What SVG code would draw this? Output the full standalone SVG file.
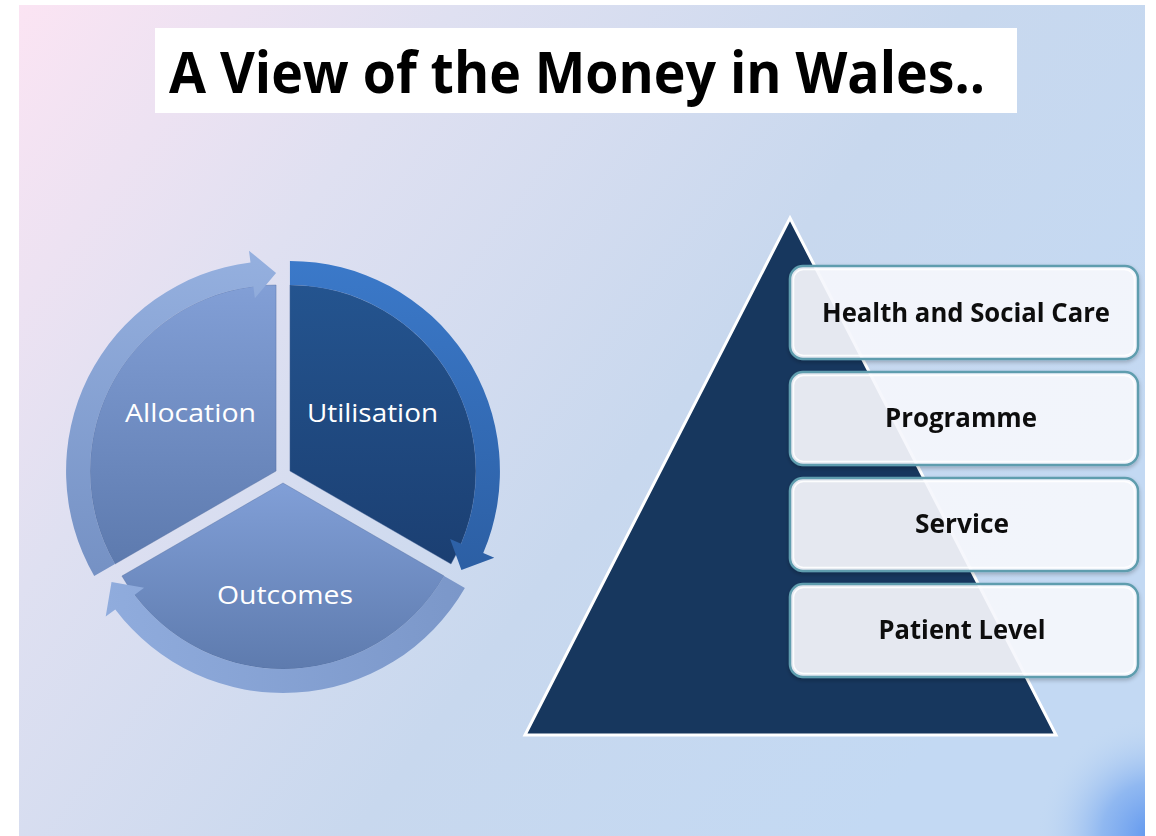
<svg xmlns="http://www.w3.org/2000/svg" width="1156" height="836" viewBox="0 0 1156 836">
<defs>
<linearGradient id="bg" x1="0" y1="0" x2="1" y2="0.55">
<stop offset="0" stop-color="#fbe4f3"/>
<stop offset="0.3" stop-color="#dfe0f1"/>
<stop offset="0.65" stop-color="#c8d8ee"/>
<stop offset="1" stop-color="#c3d9f3"/>
</linearGradient>
<radialGradient id="blob" cx="1156" cy="836" r="120" gradientUnits="userSpaceOnUse">
<stop offset="0" stop-color="#5b93ee" stop-opacity="1"/>
<stop offset="0.45" stop-color="#7aaaf0" stop-opacity="0.7"/>
<stop offset="1" stop-color="#c3d9f3" stop-opacity="0"/>
</radialGradient>
<linearGradient id="lightWedge" x1="0" y1="0" x2="0" y2="1">
<stop offset="0" stop-color="#829fd6"/>
<stop offset="1" stop-color="#5d7aae"/>
</linearGradient>
<linearGradient id="lightBand" x1="0" y1="0" x2="0" y2="1">
<stop offset="0" stop-color="#95b0df"/>
<stop offset="1" stop-color="#7591c4"/>
</linearGradient>
<linearGradient id="outWedge" x1="0" y1="0" x2="0" y2="1">
<stop offset="0" stop-color="#819fd7"/>
<stop offset="1" stop-color="#5e7bae"/>
</linearGradient>
<linearGradient id="outBand" x1="0" y1="0" x2="1" y2="0">
<stop offset="0" stop-color="#90acdd"/>
<stop offset="1" stop-color="#7b97c9"/>
</linearGradient>
<linearGradient id="darkWedge" x1="0" y1="0" x2="0" y2="1">
<stop offset="0" stop-color="#24548f"/>
<stop offset="1" stop-color="#1b3f72"/>
</linearGradient>
<linearGradient id="darkBand" x1="0" y1="0" x2="0" y2="1">
<stop offset="0" stop-color="#3b79c9"/>
<stop offset="1" stop-color="#2c5fa4"/>
</linearGradient>
<filter id="soft" x="-10%" y="-10%" width="120%" height="120%">
<feGaussianBlur in="SourceAlpha" stdDeviation="2"/>
<feOffset dx="0" dy="2" result="b"/>
<feComponentTransfer><feFuncA type="linear" slope="0.25"/></feComponentTransfer>
<feMerge><feMergeNode/><feMergeNode in="SourceGraphic"/></feMerge>
</filter>
</defs>
<style>
.seg-label{font-family:"Open Sans","Noto Sans","Liberation Sans",sans-serif;font-size:26px;fill:#ffffff;text-anchor:middle}
.box{fill:#f8faff;fill-opacity:0.9;stroke:#5e9dae;stroke-width:2.5}
.box-inner{fill:none;stroke:#ffffff;stroke-width:1.5;stroke-opacity:0.9}
.box-label{font-family:"Open Sans","Noto Sans","Liberation Sans",sans-serif;font-weight:bold;font-size:27px;fill:#111111;text-anchor:middle}
.wedge-edge{stroke:#4f6c9e;stroke-width:0.8;stroke-opacity:0.5}
</style>

<rect x="0" y="0" width="1156" height="836" fill="#ffffff"/>
<rect x="19" y="5" width="1126" height="831" fill="url(#bg)"/>
<rect x="19" y="5" width="1126" height="831" fill="url(#blob)"/>

<g id="title">
<rect x="155" y="28" width="862" height="85" fill="#ffffff"/>
<text x="169" y="93" font-family="'Open Sans','Noto Sans','Liberation Sans',sans-serif" font-weight="bold" font-size="57" fill="#000000" textLength="816" lengthAdjust="spacingAndGlyphs">A View of the Money in Wales..</text>
</g>

<g id="allocation">
<path class="wedge-edge" d="M276.07 471 L114.99 564 A186 186 0 0 1 276.07 285 Z" fill="url(#lightWedge)"/>
<path d="M94.20 576 A210 210 0 0 1 250.48 262.56 L249.01 250.65 L276.07 273 L254.86 298.30 L253.40 286.39 A186 186 0 0 0 114.99 564 Z" fill="url(#lightBand)"/>
<text class="seg-label" x="190.5" y="422" textLength="131" lengthAdjust="spacingAndGlyphs">Allocation</text>
</g>

<g id="utilisation">
<path class="wedge-edge" d="M289.93 471 L289.93 285 A186 186 0 0 1 451.01 564 Z" fill="url(#darkWedge)"/>
<path d="M289.93 261 A210 210 0 0 1 483.24 553.05 L494.28 557.74 L461.40 570 L450.10 538.99 L461.14 543.68 A186 186 0 0 0 289.93 285 Z" fill="url(#darkBand)"/>
<text class="seg-label" x="372.5" y="422" textLength="131" lengthAdjust="spacingAndGlyphs">Utilisation</text>
</g>

<g id="outcomes">
<path class="wedge-edge" d="M283 483 L444.08 576 A186 186 0 0 1 121.92 576 Z" fill="url(#outWedge)"/>
<path d="M464.87 588 A210 210 0 0 1 115.29 609.38 L105.70 616.60 L111.53 582 L144.04 587.72 L134.45 594.94 A186 186 0 0 0 444.08 576 Z" fill="url(#outBand)"/>
<text class="seg-label" x="285" y="604" textLength="136" lengthAdjust="spacingAndGlyphs">Outcomes</text>
</g>

<g id="pyramid">
<polygon points="790,218 1056,735 525,735" fill="#17375e" stroke="#ffffff" stroke-width="3" stroke-linejoin="miter"/>
</g>

<g id="level-health-social-care" filter="url(#soft)">
<rect class="box" x="790" y="266" width="348" height="93" rx="13"/>
<rect class="box-inner" x="793.5" y="269.5" width="341" height="86" rx="10"/>
<text class="box-label" x="966" y="322" textLength="288" lengthAdjust="spacingAndGlyphs">Health and Social Care</text>
</g>

<g id="level-programme" filter="url(#soft)">
<rect class="box" x="790" y="372" width="348" height="93" rx="13"/>
<rect class="box-inner" x="793.5" y="375.5" width="341" height="86" rx="10"/>
<text class="box-label" x="961" y="427" textLength="152" lengthAdjust="spacingAndGlyphs">Programme</text>
</g>

<g id="level-service" filter="url(#soft)">
<rect class="box" x="790" y="478" width="348" height="93" rx="13"/>
<rect class="box-inner" x="793.5" y="481.5" width="341" height="86" rx="10"/>
<text class="box-label" x="962" y="533" textLength="94" lengthAdjust="spacingAndGlyphs">Service</text>
</g>

<g id="level-patient" filter="url(#soft)">
<rect class="box" x="790" y="584" width="348" height="93" rx="13"/>
<rect class="box-inner" x="793.5" y="587.5" width="341" height="86" rx="10"/>
<text class="box-label" x="962" y="639" textLength="167" lengthAdjust="spacingAndGlyphs">Patient Level</text>
</g>

<g id="connectors"/>
</svg>
